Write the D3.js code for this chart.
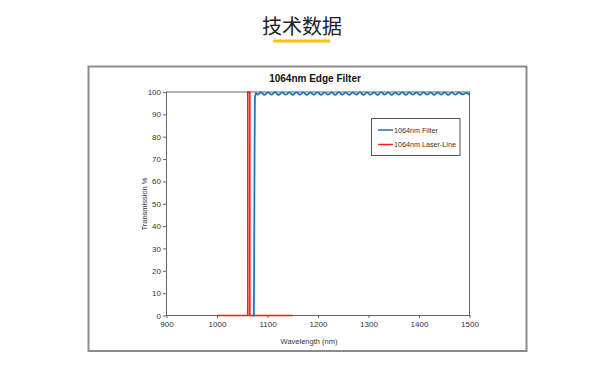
<!DOCTYPE html>
<html>
<head>
<meta charset="utf-8">
<script src="https://cdn.jsdelivr.net/npm/d3@7"></script>
<style>
  body { margin: 0; background: #fff; }
  svg { display: block; }
</style>
</head>
<body>
<svg id="chart"></svg>
<script>
// data
const xTicks = [900, 1000, 1100, 1200, 1300, 1400, 1500];
const yTicks = [0, 10, 20, 30, 40, 50, 60, 70, 80, 90, 100];

const filterWl = [1070, 1073, 1074, 1075, 1077,
    1080, 1087, 1094, 1101, 1108, 1115, 1122, 1129, 1136, 1143, 1150, 1157, 1164, 1171, 1178,
    1185, 1192, 1199, 1206, 1213, 1220, 1227, 1234, 1241, 1248, 1255, 1262, 1269, 1276, 1283,
    1290, 1297, 1304, 1311, 1318, 1325, 1332, 1339, 1346, 1353, 1360, 1367, 1374, 1381, 1388,
    1395, 1402, 1409, 1416, 1423, 1430, 1437, 1444, 1451, 1458, 1465, 1472, 1479, 1486, 1493, 1500];
const filterT = [0, 0, 50, 97, 99.6,
    98.8, 99.8, 98.7, 99.8, 98.8, 99.9, 98.7, 99.8, 98.8, 99.8, 98.7, 99.9, 98.8, 99.8, 98.7,
    99.8, 98.8, 99.9, 98.7, 99.8, 98.8, 99.8, 98.7, 99.9, 98.8, 99.8, 98.7, 99.8, 98.8, 99.9,
    98.7, 99.8, 98.8, 99.8, 98.7, 99.9, 98.8, 99.8, 98.7, 99.8, 98.8, 99.9, 98.7, 99.8, 98.8,
    99.8, 98.7, 99.9, 98.8, 99.8, 98.7, 99.8, 98.8, 99.9, 98.7, 99.8, 98.8, 99.8, 98.9, 99.6, 98.7];

const laserWl = [1000, 1061, 1061, 1065, 1065, 1150];
const laserT = [0, 0, 100, 100, 0, 0];

const legendItems = [
    { name: "1064nm Filter", color: "#1f74bd" },
    { name: "1064nm Laser-Line", color: "#ff1a1a" }
];

const W = 605, H = 391;
const svg = d3.select("#chart").attr("width", W).attr("height", H);

// page heading
svg.append("text")
    .attr("x", 302).attr("y", 34)
    .attr("text-anchor", "middle")
    .attr("font-family", "'Noto Sans CJK SC', sans-serif")
    .attr("font-size", "20px")
    .attr("fill", "#222")
    .text("技术数据");

svg.append("rect")
    .attr("x", 273).attr("y", 39.5)
    .attr("width", 57).attr("height", 3)
    .attr("fill", "#f6c400");

// outer frame of the chart image
svg.append("rect")
    .attr("x", 88.5).attr("y", 66.5)
    .attr("width", 438).attr("height", 284.5)
    .attr("fill", "#fff")
    .attr("stroke", "#8c8c8c")
    .attr("stroke-width", 2);

const pLeft = 166.5, pRight = 469.5, pTop = 92, pBottom = 315.5;

const x = d3.scaleLinear().domain([900, 1500]).range([pLeft, pRight]);
const y = d3.scaleLinear().domain([0, 100]).range([pBottom, pTop]);

const font = "'Liberation Sans', Arial, sans-serif";

// title
svg.append("text")
    .attr("x", 315).attr("y", 82)
    .attr("text-anchor", "middle")
    .attr("font-family", font)
    .attr("font-weight", "bold")
    .attr("font-size", "10px")
    .attr("fill", "#111")
    .text("1064nm Edge Filter");

// plot box
svg.append("rect")
    .attr("x", pLeft).attr("y", pTop)
    .attr("width", pRight - pLeft).attr("height", pBottom - pTop)
    .attr("fill", "none")
    .attr("stroke", "#666")
    .attr("stroke-width", 1);

const xAxis = svg.append("g")
    .attr("transform", `translate(0,${pBottom - 0.5})`)
    .call(d3.axisBottom(x).tickValues(xTicks).tickFormat(d3.format("d"))
        .tickSize(3).tickPadding(3).tickSizeOuter(0));

const yAxis = svg.append("g")
    .attr("transform", `translate(${pLeft - 0.5},0)`)
    .call(d3.axisLeft(y).tickValues(yTicks).tickFormat(d3.format("d"))
        .tickSize(3).tickPadding(2).tickSizeOuter(0));

[xAxis, yAxis].forEach(a => {
    a.select(".domain").attr("stroke", "#666");
    a.selectAll(".tick line").attr("stroke", "#666");
    a.selectAll(".tick text")
        .attr("font-family", font)
        .attr("font-size", "8px")
        .attr("fill", "#333");
});

// axis labels
svg.append("text")
    .attr("x", 309).attr("y", 344)
    .attr("text-anchor", "middle")
    .attr("font-family", font)
    .attr("font-size", "7.5px")
    .attr("fill", "#333")
    .text("Wavelength (nm)");

svg.append("text")
    .attr("transform", "translate(147,204) rotate(-90)")
    .attr("text-anchor", "middle")
    .attr("font-family", font)
    .attr("font-size", "7.5px")
    .attr("fill", "#333")
    .text("Transmission %");

// series
const laserLine = d3.line()
    .x((d, i) => x(laserWl[i]))
    .y(d => y(d));

svg.append("path")
    .datum(laserT)
    .attr("d", laserLine)
    .attr("fill", "none")
    .attr("stroke", legendItems[1].color)
    .attr("stroke-width", 1.6);

const filterLine = d3.line()
    .x((d, i) => x(filterWl[i]))
    .y(d => y(d))
    .curve(d3.curveMonotoneX);

svg.append("path")
    .datum(filterT)
    .attr("d", filterLine)
    .attr("fill", "none")
    .attr("stroke", legendItems[0].color)
    .attr("stroke-width", 1.8);

// legend
const lg = svg.append("g");
lg.append("rect")
    .attr("x", 371.5).attr("y", 118.5)
    .attr("width", 88.5).attr("height", 37)
    .attr("fill", "#fff")
    .attr("stroke", "#555")
    .attr("stroke-width", 1);

legendItems.forEach((d, i) => {
    const yy = 130 + i * 14.5;
    lg.append("line")
        .attr("x1", 378).attr("x2", 393)
        .attr("y1", yy).attr("y2", yy)
        .attr("stroke", d.color)
        .attr("stroke-width", 1.5);
    lg.append("text")
        .attr("x", 394).attr("y", yy + 2.8)
        .attr("font-family", font)
        .attr("font-size", "7.2px")
        .attr("fill", "#333")
        .text(d.name);
});
</script>
</body>
</html>
